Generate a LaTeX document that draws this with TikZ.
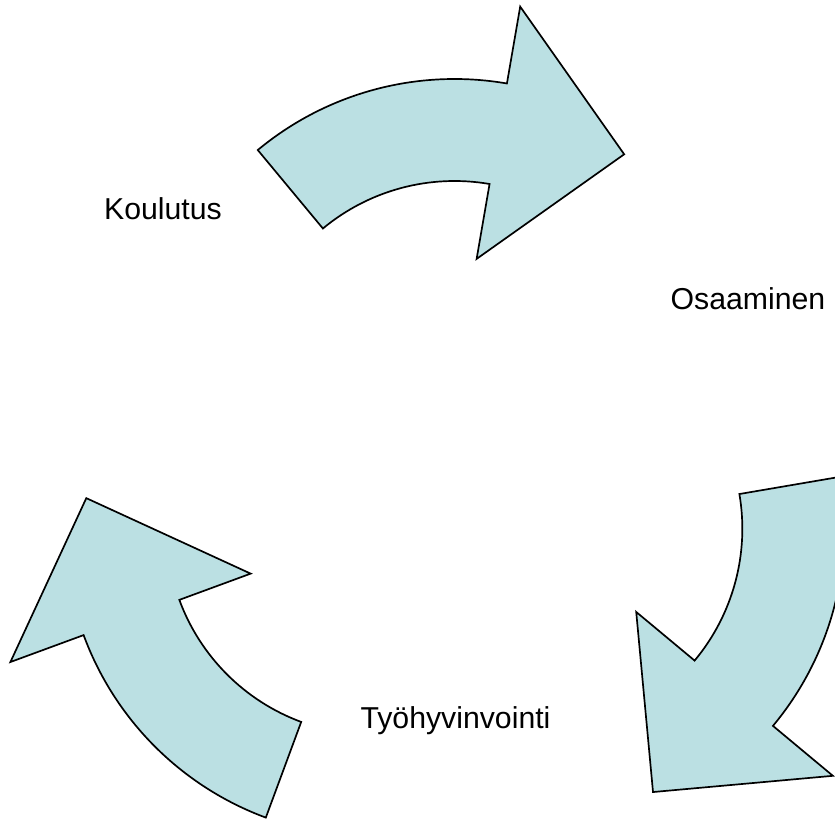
\documentclass[tikz,border=0pt]{standalone}
\usepackage{fontspec}
\setmainfont{Liberation Sans}
\usetikzlibrary{calc}
\definecolor{arrowfill}{RGB}{187,224,227}
\tikzset{
  cyclearrow/.style={draw=black, fill=arrowfill, line width=1.2pt, line join=miter},
  lbl/.style={font=\fontsize{21.5}{26}\selectfont, anchor=base, inner sep=0pt}
}
\begin{document}
\begin{tikzpicture}[x=0.025cm,y=0.025cm]
\useasboundingbox (0,0) rectangle (835,819);
\clip (0,0) rectangle (835,819);
\coordinate (G) at (454.5,337.5);
\foreach \k in {0,1,2}{
  \pgfmathsetmacro{\rot}{120*\k}
  \pgfmathsetmacro{\ph}{90+120*\k}
  \begin{scope}[shift={($(G)+(\ph:94.5)$)}, rotate=\rot]
    \draw[cyclearrow] (129.7:308) arc[start angle=129.7, end angle=80.2, radius=308]
      -- (80.2:386) -- (53.9:288) -- (80.2:130) -- (80.2:206)
      arc[start angle=80.2, end angle=129.7, radius=206] -- cycle;
  \end{scope}
}
\node[lbl] (koulutus) at (163,599) {Koulutus};
\node[lbl] (osaaminen) at (748,509) {Osaaminen};
\node[lbl] (tyohyvinvointi) at (455.5,90.7) {Työhyvinvointi};
\end{tikzpicture}
\end{document}
